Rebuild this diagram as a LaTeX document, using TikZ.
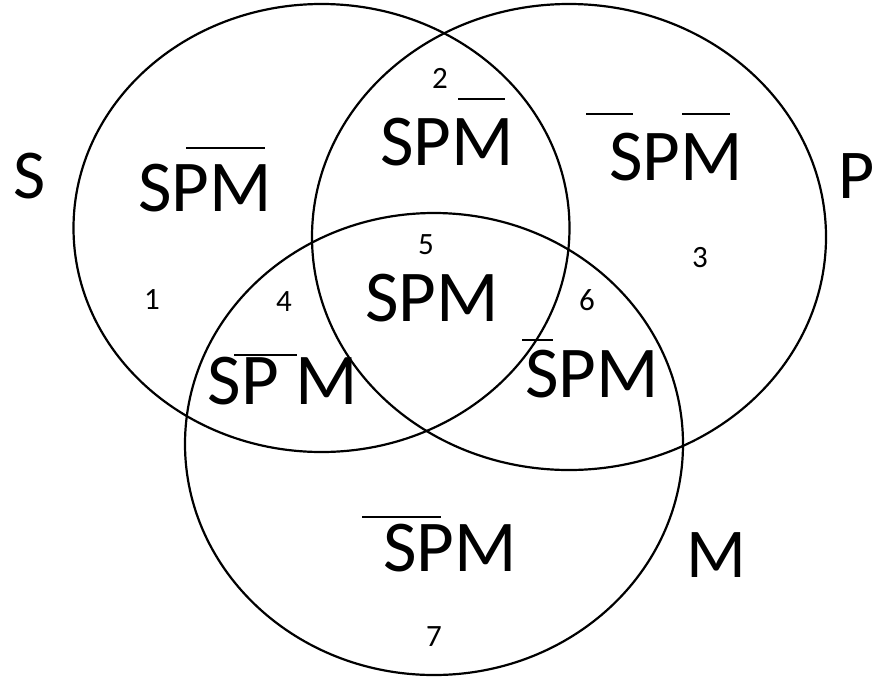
\documentclass[tikz,border=0pt]{standalone}
\usepackage{fontspec}
\setmainfont{Carlito}
\begin{document}
\begin{tikzpicture}[x=1pt,y=-1pt,
  ring/.style={draw=black,line width=2.2pt},
  term/.style={inner sep=0pt,font=\fontsize{73}{73}\selectfont},
  setname/.style={inner sep=0pt,font=\fontsize{70}{70}\selectfont},
  num/.style={inner sep=0pt,font=\fontsize{31}{31}\selectfont},
  bar/.style={line width=2pt}]
\useasboundingbox (0,0) rectangle (877,683);
\fill[white] (0,0) rectangle (877,683);

% the three sets
\draw[ring] (321.5,228) ellipse [x radius=248, y radius=224];
\draw[ring] (569,237) ellipse [x radius=257, y radius=233];
\draw[ring] (434,444) ellipse [x radius=249, y radius=231];

% set names
\node[setname] (nS) at (30,176) {S};
\node[setname] (nP) at (857,176) {P};
\node[setname] (nM) at (716,555) {M};

% region terms
\node[term] (r1) at (205,188) {SPM};
\node[term] (r2) at (447,142) {SPM};
\node[term] (r3) at (676,157) {SPM};
\node[term] (r4) at (283,381) {SP M};
\node[term] (r5) at (432,298) {SPM};
\node[term] (r6) at (592,374) {SPM};
\node[term] (r7) at (450,548) {SPM};

% complement bars
\draw[bar] (186,148) -- (265,148);
\draw[bar] (458,99) -- (505,99);
\draw[bar] (586,114) -- (633,114);
\draw[bar] (682,114) -- (730,114);
\draw[bar] (234,355) -- (297,355);
\draw[bar] (522,340) -- (553,340);
\draw[bar] (362,517) -- (441,517);

% region numbers
\node[num] (n1) at (152,300) {1};
\node[num] (n2) at (440,78) {2};
\node[num] (n3) at (700,258) {3};
\node[num] (n4) at (284,302) {4};
\node[num] (n5) at (426,245) {5};
\node[num] (n6) at (587,300) {6};
\node[num] (n7) at (434,637) {7};
\end{tikzpicture}
\end{document}
